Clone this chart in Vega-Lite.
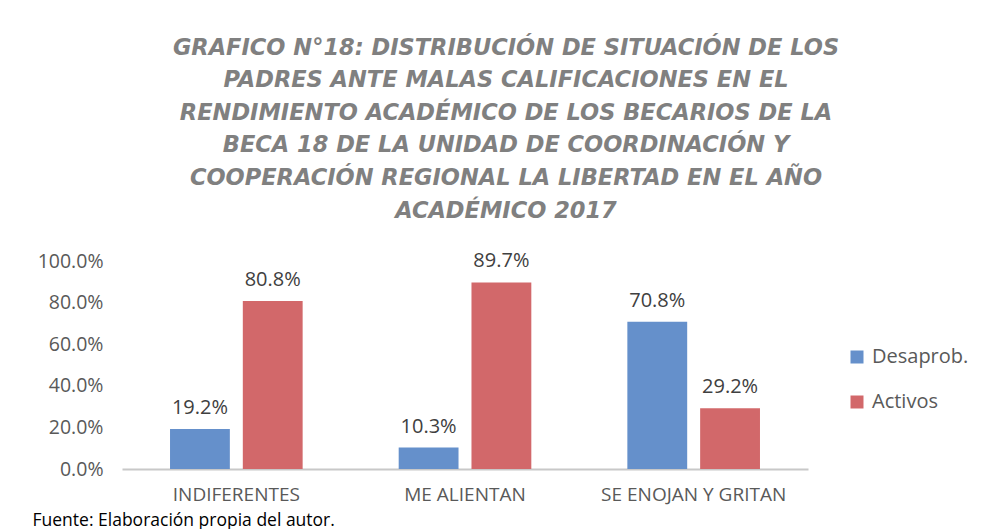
{
  "$schema": "https://vega.github.io/schema/vega-lite/v6.json",
  "autosize": "none",
  "width": 686,
  "height": 208,
  "padding": {"left": 122, "top": 261, "right": 173, "bottom": 60},
  "background": "white",
  "config": {"view": {"stroke": null}, "font": "Open Sans"},
  "title": {
    "text": [
      "GRAFICO N°18: DISTRIBUCIÓN DE SITUACIÓN DE LOS",
      "PADRES ANTE MALAS CALIFICACIONES EN EL",
      "RENDIMIENTO ACADÉMICO DE LOS BECARIOS DE LA",
      "BECA 18 DE LA UNIDAD DE COORDINACIÓN Y",
      "COOPERACIÓN REGIONAL LA LIBERTAD EN EL AÑO",
      "ACADÉMICO 2017"
    ],
    "font": "DejaVu Sans",
    "fontSize": 22.5,
    "fontWeight": "bold",
    "fontStyle": "italic",
    "color": "#808080",
    "lineHeight": 32.6,
    "anchor": "middle",
    "dx": 41,
    "offset": 29
  },
  "data": {
    "values": [
      {"categoria": "INDIFERENTES", "grupo": "Desaprob.", "valor": 0.192},
      {"categoria": "INDIFERENTES", "grupo": "Activos", "valor": 0.808},
      {"categoria": "ME ALIENTAN", "grupo": "Desaprob.", "valor": 0.103},
      {"categoria": "ME ALIENTAN", "grupo": "Activos", "valor": 0.897},
      {"categoria": "SE ENOJAN Y GRITAN", "grupo": "Desaprob.", "valor": 0.708},
      {"categoria": "SE ENOJAN Y GRITAN", "grupo": "Activos", "valor": 0.292}
    ]
  },
  "encoding": {
    "x": {
      "field": "categoria",
      "type": "nominal",
      "sort": null,
      "scale": {"paddingInner": 0.42, "paddingOuter": 0.21},
      "axis": {
        "title": "Fuente: Elaboración propia del autor.",
        "titleFont": "Open Sans",
        "titleFontSize": 17.5,
        "titleFontWeight": "normal",
        "titleColor": "#000000",
        "titleAnchor": "start",
        "titleAlign": "left",
        "titleBaseline": "top",
        "titleX": -90,
        "titleY": 42,
        "labelAngle": 0,
        "labelFontSize": 19,
        "labelColor": "#595959",
        "labelPadding": 16,
        "labelLimit": 400,
        "labelOverlap": false,
        "ticks": false,
        "domainColor": "#c8c8c8",
        "domainWidth": 2,
        "grid": false
      }
    },
    "xOffset": {
      "field": "grupo",
      "type": "nominal",
      "sort": ["Desaprob.", "Activos"],
      "scale": {"paddingInner": 0.178, "paddingOuter": 0}
    },
    "y": {
      "field": "valor",
      "type": "quantitative",
      "scale": {"domain": [0, 1], "nice": false},
      "axis": {
        "title": null,
        "format": ".1%",
        "values": [0, 0.2, 0.4, 0.6, 0.8, 1.0],
        "labelFontSize": 19.5,
        "labelColor": "#595959",
        "labelPadding": 19,
        "ticks": false,
        "domain": false,
        "grid": false
      }
    }
  },
  "layer": [
    {
      "mark": {"type": "bar"},
      "encoding": {
        "color": {
          "field": "grupo",
          "type": "nominal",
          "sort": ["Desaprob.", "Activos"],
          "scale": {"domain": ["Desaprob.", "Activos"], "range": ["#6590cb", "#d2686a"]},
          "legend": {
            "title": null,
            "orient": "none",
            "legendX": 725,
            "legendY": 86,
            "symbolType": "square",
            "symbolSize": 169,
            "symbolStrokeWidth": 0,
            "labelFontSize": 20,
            "labelColor": "#595959",
            "labelOffset": 5,
            "rowPadding": 25
          }
        }
      }
    },
    {
      "mark": {"type": "text", "baseline": "bottom", "dy": -11, "fontSize": 20, "color": "#404040"},
      "encoding": {
        "text": {"field": "valor", "type": "quantitative", "format": ".1%"}
      }
    }
  ]
}
